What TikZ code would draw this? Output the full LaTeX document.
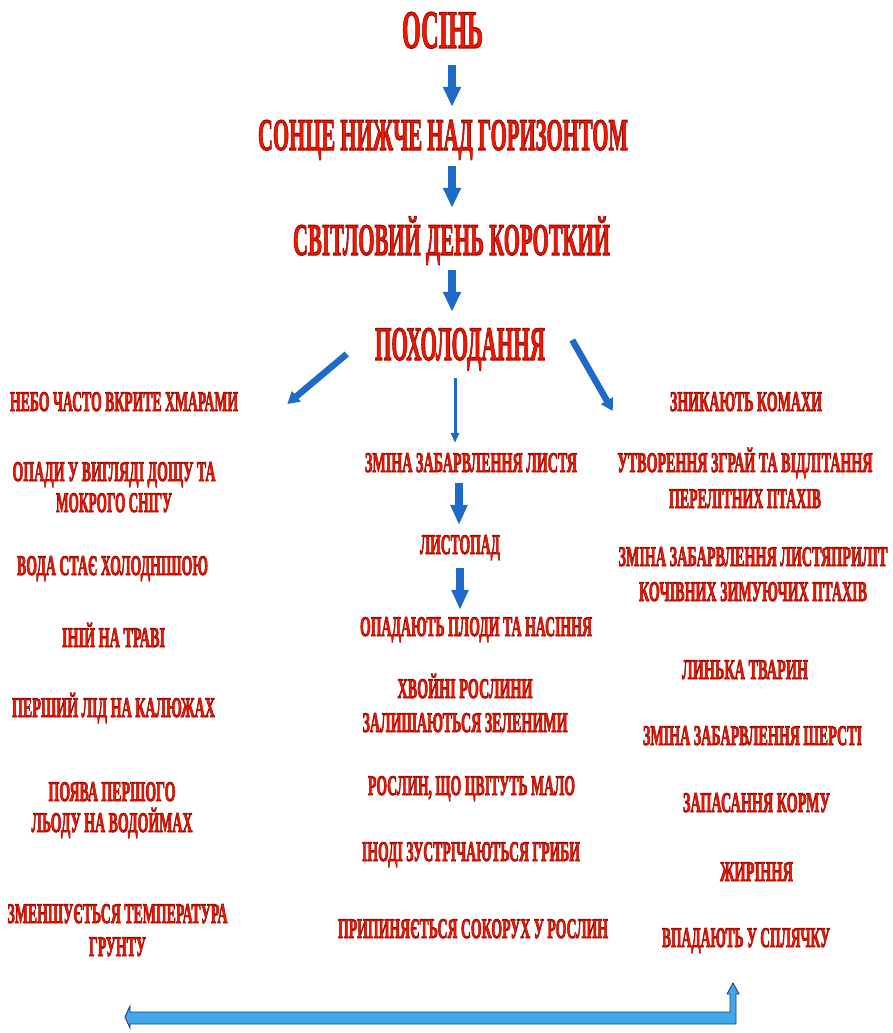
\documentclass[tikz,border=0pt]{standalone}
\usepackage{fontspec}
\setmainfont{Liberation Serif}
\usepackage{graphicx}
\usetikzlibrary{arrows.meta,calc}
\definecolor{txtred}{RGB}{246,22,0}
\definecolor{arrblue}{RGB}{30,106,200}
\definecolor{lightblue}{RGB}{64,168,232}
\definecolor{darkblue}{RGB}{27,63,138}
% outlined text: fill + stroke (text render mode 2)
\newcommand\strokew{0.9}
\newcommand\stk[1]{\special{pdf:literal direct 2 Tr \strokew\space w 0.62 0.04 0 RG}#1\special{pdf:literal direct 0 Tr}}
\newcommand\tx[2]{\resizebox{#1pt}{\height}{\stk{#2}}}
\newcommand\twoln[5]{\vbox{\baselineskip=#5pt\lineskiplimit=-1000pt\lineskip=0pt\halign{\hfil##\hfil\cr\tx{#1}{#2}\cr\tx{#3}{#4}\cr}}}
\tikzset{
  sm/.style={inner sep=0pt, anchor=base, text=txtred, font=\fontsize{28.5}{30}\selectfont\bfseries, text height=18.9pt, text depth=0pt},
  smtwo/.style={inner sep=0pt, anchor=base, text=txtred, font=\fontsize{28.5}{30}\selectfont\bfseries},
  big/.style={inner sep=0pt, anchor=base, text=txtred, text depth=0pt},
  blk/.style={draw=arrblue, line width=7.5pt, -{Triangle[width=17pt,length=20pt,fill=arrblue]}},
  blkm/.style={draw=arrblue, line width=7.5pt, -{Triangle[width=16pt,length=20pt,fill=arrblue]}},
  diag/.style={draw=arrblue, line width=6.5pt, -{Triangle[width=13pt,length=12pt,fill=arrblue]}},
  thin/.style={draw=arrblue, line width=3pt, -{Triangle[width=8pt,length=10pt,fill=arrblue]}},
}
\begin{document}
\begin{tikzpicture}[x=1pt,y=-1pt]
\fill[white] (0,0) rectangle (893,1033);
\useasboundingbox (0,0) rectangle (893,1033);

% top chain
\node[big, font=\fontsize{54.4}{60}\selectfont\bfseries\renewcommand\strokew{1.2}, text height=36pt] (osin) at (442.5,48) {\tx{81}{ОСІНЬ}};
\node[big, font=\fontsize{45.3}{50}\selectfont\bfseries\renewcommand\strokew{1.2}, text height=30pt] (sonce) at (443,150) {\tx{370}{СОНЦЕ НИЖЧЕ НАД ГОРИЗОНТОМ}};
\node[big, font=\fontsize{45.3}{50}\selectfont\bfseries\renewcommand\strokew{1.2}, text height=30pt] (svit) at (451.5,255) {\tx{317}{СВІТЛОВИЙ ДЕНЬ КОРОТКИЙ}};
\node[big, font=\fontsize{48.3}{52}\selectfont\bfseries\renewcommand\strokew{1.2}, text height=32pt] (poh) at (460,360) {\tx{170}{ПОХОЛОДАННЯ}};

% left column
\node[sm] (nebo) at (124,411) {\tx{228}{НЕБО ЧАСТО ВКРИТЕ ХМАРАМИ}};
\node[smtwo] (opady) at (114,512) {\twoln{203}{ОПАДИ У ВИГЛЯДІ ДОЩУ ТА}{116}{МОКРОГО СНІГУ}{31}};
\node[sm] (voda) at (112.5,575) {\tx{191}{ВОДА СТАЄ ХОЛОДНІШОЮ}};
\node[sm] (inij) at (113.5,647) {\tx{103}{ІНІЙ НА ТРАВІ}};
\node[sm] (lid) at (113.5,717) {\tx{203}{ПЕРШИЙ ЛІД НА КАЛЮЖАХ}};
\node[smtwo] (poyava) at (112,832) {\twoln{127}{ПОЯВА ПЕРШОГО}{161}{ЛЬОДУ НА ВОДОЙМАХ}{31}};
\node[smtwo] (grunt) at (117.5,956) {\twoln{220}{ЗМЕНШУЄТЬСЯ ТЕМПЕРАТУРА}{57}{ГРУНТУ}{33}};

% middle column
\node[sm] (zl) at (471,472) {\tx{212}{ЗМІНА ЗАБАРВЛЕННЯ ЛИСТЯ}};
\node[sm] (lyst) at (460,554) {\tx{80}{ЛИСТОПАД}};
\node[sm] (opad) at (476,636) {\tx{232}{ОПАДАЮТЬ ПЛОДИ ТА НАСІННЯ}};
\node[smtwo] (hvoj) at (465,732) {\twoln{135}{ХВОЙНІ РОСЛИНИ}{205}{ЗАЛИШАЮТЬСЯ ЗЕЛЕНИМИ}{34}};
\node[sm] (cvit) at (471.5,795) {\tx{207}{РОСЛИН, ЩО ЦВІТУТЬ МАЛО}};
\node[sm] (hryby) at (471,861) {\tx{218}{ІНОДІ ЗУСТРІЧАЮТЬСЯ ГРИБИ}};
\node[sm] (sok) at (473,938) {\tx{270}{ПРИПИНЯЄТЬСЯ СОКОРУХ У РОСЛИН}};

% right column
\node[sm] (znyk) at (746,411) {\tx{152}{ЗНИКАЮТЬ КОМАХИ}};
\node[smtwo] (zgraj) at (745,508) {\twoln{255}{УТВОРЕННЯ ЗГРАЙ ТА ВІДЛІТАННЯ}{152}{ПЕРЕЛІТНИХ ПТАХІВ}{36}};
\node[smtwo] (koch) at (753,601) {\twoln{269}{ЗМІНА ЗАБАРВЛЕННЯ ЛИСТЯПРИЛІТ}{228}{КОЧІВНИХ ЗИМУЮЧИХ ПТАХІВ}{35}};
\node[sm] (lynka) at (745,679) {\tx{126}{ЛИНЬКА ТВАРИН}};
\node[sm] (sherst) at (752.5,745) {\tx{219}{ЗМІНА ЗАБАРВЛЕННЯ ШЕРСТІ}};
\node[sm] (korm) at (756.5,812) {\tx{147}{ЗАПАСАННЯ КОРМУ}};
\node[sm] (zhyr) at (756.5,881) {\tx{73}{ЖИРІННЯ}};
\node[sm] (splyach) at (746,947) {\tx{168}{ВПАДАЮТЬ У СПЛЯЧКУ}};

% arrows
\draw[blk] ($(osin.south)+(9.5,17)$) -- ($(sonce.north)+(9,-13)$);
\draw[blk] ($(sonce.south)+(9,16)$) -- ($(svit.north)+(0.5,-17)$);
\draw[blk] ($(svit.south)+(0.5,15)$) -- ($(poh.north)+(-8,-16)$);
\draw[diag] ($(poh.west)+(-28,10)$) -- ($(nebo.east)+(49,2.5)$);
\draw[diag] ($(poh.east)+(27,-4)$) -- ($(znyk.west)+(-57,9.5)$);
\draw[thin] ($(poh.south)+(-5,18)$) -- ($(zl.north)+(-16,-10)$);
\draw[blkm] ($(zl.south)+(-12,11)$) -- ($(lyst.north)+(-1,-10)$);
\draw[blkm] ($(lyst.south)+(0,14)$) -- ($(opad.north)+(-16,-7)$);

% bottom bent double arrow
\filldraw[fill=lightblue, draw=darkblue, line width=0.9pt, line join=miter]
  (125,1017) -- (130,1006) -- (130,1012) -- (730,1012) -- (730,994) -- (727,994)
  -- (733,983) -- (739,994) -- (736,994) -- (736,1024) -- (130,1024) -- (130,1028) -- cycle;
\end{tikzpicture}
\end{document}
